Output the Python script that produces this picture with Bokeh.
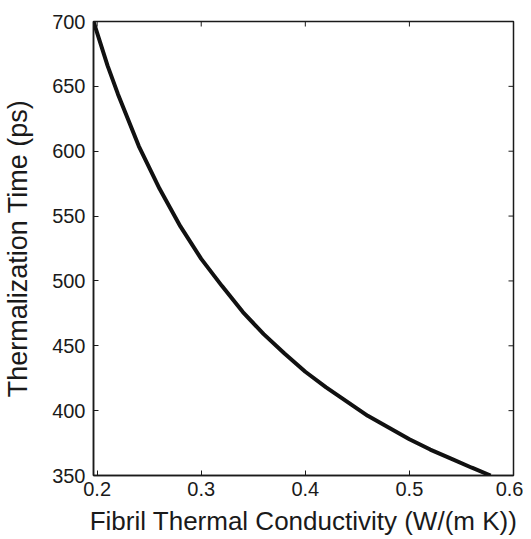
import math
from bokeh.plotting import figure
from bokeh.models import Range1d, FixedTicker
from bokeh.embed import file_html
from bokeh.resources import INLINE

# Data
conductivity = [0.1965, 0.21, 0.22, 0.24, 0.26, 0.28, 0.30, 0.32, 0.34, 0.36,
                0.38, 0.40, 0.42, 0.44, 0.46, 0.48, 0.50, 0.52, 0.54, 0.56, 0.578]
therm_time = [700, 666, 644, 604, 571, 542, 517, 496, 476, 459,
              444, 430, 418, 407, 396, 387, 378, 370, 363, 356, 350]

x_ticks = [0.2, 0.3, 0.4, 0.5, 0.6]
y_ticks = [350, 400, 450, 500, 550, 600, 650, 700]

X_MIN, X_MAX = 0.1965, 0.6
Y_MIN, Y_MAX = 350, 700

FONT = "Liberation Sans"
TXT = "#1a1a1a"

p = figure(frame_width=420, frame_height=454,
           x_range=Range1d(X_MIN, X_MAX), y_range=Range1d(Y_MIN, Y_MAX),
           output_backend="svg", toolbar_location=None,
           min_border_left=88, min_border_top=21, min_border_right=10,
           min_border_bottom=0)
p.background_fill_color = "white"
p.border_fill_color = "white"
p.grid.visible = False
p.outline_line_color = "#1a1a1a"
p.outline_line_width = 1.5

p.line(conductivity, therm_time, line_color="#111111", line_width=4)

# inward ticks on top and right edges (box like the reference)
p.ray(x=x_ticks, y=[Y_MAX] * len(x_ticks), length=5, length_units="screen",
      angle=-math.pi / 2, line_color="#1a1a1a", line_width=1)
p.ray(x=[X_MAX] * len(y_ticks), y=y_ticks, length=5, length_units="screen",
      angle=math.pi, line_color="#1a1a1a", line_width=1)

for ax, ticks in ((p.xaxis[0], x_ticks), (p.yaxis[0], y_ticks)):
    ax.ticker = FixedTicker(ticks=ticks)
    ax.major_tick_in = 5
    ax.major_tick_out = 0
    ax.minor_tick_line_color = None
    ax.axis_line_color = "#1a1a1a"
    ax.axis_line_width = 1.5
    ax.major_tick_line_color = "#1a1a1a"
    ax.major_label_text_font = FONT
    ax.major_label_text_font_size = "20px"
    ax.major_label_text_color = TXT
    ax.axis_label_text_font = FONT
    ax.axis_label_text_font_style = "normal"
    ax.axis_label_text_color = TXT

p.xaxis[0].axis_label = "Fibril Thermal Conductivity (W/(m K))"
p.xaxis[0].axis_label_text_font_size = "26px"
p.xaxis[0].major_label_standoff = 6
p.xaxis[0].axis_label_standoff = 7

p.yaxis[0].axis_label = "Thermalization Time (ps)"
p.yaxis[0].axis_label_text_font_size = "27px"
p.yaxis[0].major_label_standoff = 8
p.yaxis[0].axis_label_standoff = 16

open("out.html", "w").write(file_html(p, INLINE))
